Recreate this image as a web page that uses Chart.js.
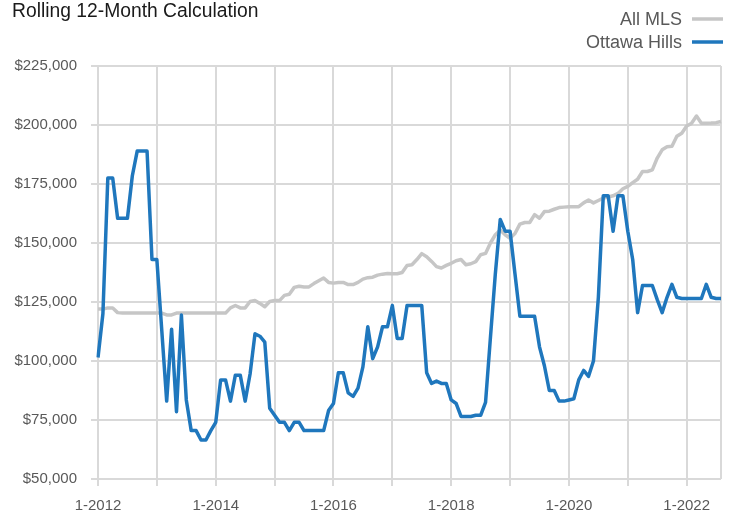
<!DOCTYPE html>
<html>
<head>
<meta charset="utf-8">
<title>Rolling 12-Month Calculation</title>
<script src="https://cdn.jsdelivr.net/npm/chart.js@4/dist/chart.umd.min.js"></script>
<style>
  html, body { margin: 0; padding: 0; background: #fff; }
  #wrap { width: 732px; height: 514px; }
</style>
</head>
<body>
<div id="wrap"><canvas id="chart" width="732" height="514"></canvas></div>
<script>
const titleText = 'Rolling 12-Month Calculation';
const startYear = 2012;
const monthCount = 128; // 1-2012 .. 8-2022

// median price, rolling 12 months
const allMls = [
    122000, 122000, 122500, 122500, 120500, 120300, 120300, 120300, 120300, 120300,
    120300, 120300, 120300, 120300, 119500, 119500, 120300, 120300, 120300, 120300,
    120300, 120300, 120300, 120300, 120300, 120300, 120300, 122500, 123500, 122500,
    122500, 125200, 125600, 124400, 123000, 125200, 125600, 125600, 127800, 128300,
    131200, 131700, 131400, 131400, 132800, 134000, 135200, 133300, 133000, 133300,
    133300, 132400, 132400, 133300, 134700, 135300, 135500, 136400, 136800, 137100,
    137000, 137000, 137500, 140500, 140800, 143000, 145500, 144200, 142200, 140000,
    139400, 140500, 141400, 142500, 143000, 140800, 141200, 142100, 145000, 145600,
    150000, 153500, 155500, 153500, 152000, 154000, 158000, 158700, 158700, 162000,
    160500, 163300, 163500, 164300, 165000, 165200, 165400, 165400, 165400, 167000,
    168200, 167000, 168000, 169000, 169500, 170000, 171000, 173000, 174000, 175600,
    177000, 180300, 180300, 181000, 186000, 189500, 190800, 191000, 195200, 196500,
    199600, 200700, 203800, 200700, 200700, 200800, 201000, 201500
];
const ottawaHills = [
    101500, 120000, 177500, 177500, 160500, 160500, 160500, 178500, 189000, 189000,
    189000, 143000, 143000, 113000, 83000, 113500, 78500, 119500, 83500, 70500,
    70500, 66500, 66500, 70500, 74000, 92000, 92000, 83000, 94000, 94000,
    83000, 94500, 111500, 110500, 108000, 80000, 77000, 74000, 74000, 70500,
    74000, 74000, 70500, 70500, 70500, 70500, 70500, 79000, 82000, 95000,
    95000, 86500, 85000, 88500, 97500, 114500, 101000, 106000, 114500, 114500,
    123500, 109500, 109500, 123500, 123500, 123500, 123500, 95000, 90500, 91500,
    90500, 90500, 83500, 82000, 76500, 76500, 76500, 77000, 77000, 82500,
    110000, 137000, 160000, 155000, 155000, 137000, 119000, 119000, 119000, 119000,
    106000, 98000, 87500, 87500, 83000, 83000, 83500, 84000, 92000, 96000,
    93500, 100000, 127000, 170000, 170000, 155000, 170000, 170000, 155000, 143000,
    120500, 132000, 132000, 132000, 126000, 120500, 127000, 132500, 127000, 126500,
    126500, 126500, 126500, 126500, 132500, 127000, 126500, 126500
];

const yMin = 50000;
const yMax = 225000;
const yStep = 25000;

const labels = [];
for (let i = 0; i < monthCount; i++) {
    labels.push(`${(i % 12) + 1}-${startYear + Math.floor(i / 12)}`);
}

const fontFamily = '"Liberation Sans", Arial, Helvetica, sans-serif';
const gridColor = '#d9d9d9';
const textColor = '#595959';

// title + legend drawn by hand, legend has the swatch on the right
const headerPlugin = {
    id: 'header',
    afterDraw(chart) {
        const c = chart.ctx;
        c.save();
        c.textBaseline = 'alphabetic';
        c.textAlign = 'left';
        c.fillStyle = '#1a1a1a';
        c.font = '19.3px ' + fontFamily;
        c.fillText(titleText, 12, 17);

        c.textAlign = 'right';
        c.fillStyle = textColor;
        c.font = '18px ' + fontFamily;
        chart.data.datasets.forEach((ds, i) => {
            const base = 25 + i * 23;
            c.fillText(ds.label, 682, base);
            c.strokeStyle = ds.borderColor;
            c.lineWidth = 3.5;
            c.beginPath();
            c.moveTo(692, base - 6);
            c.lineTo(723, base - 6);
            c.stroke();
        });
        c.restore();
    }
};

const yearLine = (ctx) => (ctx.index % 12 === 0 || ctx.index === monthCount - 1) ? gridColor : 'rgba(0,0,0,0)';

new Chart(document.getElementById('chart').getContext('2d'), {
    type: 'line',
    data: {
        labels: labels,
        datasets: [{
            label: 'All MLS',
            data: allMls,
            borderColor: '#c6c6c6',
            borderWidth: 3.5,
            pointRadius: 0,
            tension: 0,
            borderJoinStyle: 'round',
            order: 2
        }, {
            label: 'Ottawa Hills',
            data: ottawaHills,
            borderColor: '#1f77bd',
            borderWidth: 3.5,
            pointRadius: 0,
            tension: 0,
            borderJoinStyle: 'round',
            order: 1
        }]
    },
    options: {
        responsive: false,
        animation: false,
        devicePixelRatio: 1,
        layout: { padding: { top: 66, right: 10, left: 0, bottom: 0 } },
        plugins: {
            legend: { display: false },
            title: { display: false },
            tooltip: { enabled: false }
        },
        scales: {
            x: {
                grid: {
                    color: yearLine,
                    tickColor: (ctx) => ctx.index % 12 === 0 ? gridColor : 'rgba(0,0,0,0)',
                    lineWidth: 2,
                    tickLength: 7
                },
                border: { display: false },
                ticks: {
                    autoSkip: false,
                    maxRotation: 0,
                    padding: 11,
                    color: textColor,
                    font: { family: fontFamily, size: 15 },
                    callback: (v, i) => i % 24 === 0 ? labels[i] : ''
                },
                afterFit: (s) => { s.height = 35; }
            },
            y: {
                min: yMin,
                max: yMax,
                grid: { color: gridColor, lineWidth: 2, tickLength: 7 },
                border: { display: false },
                ticks: {
                    stepSize: yStep,
                    padding: 14,
                    color: textColor,
                    font: { family: fontFamily, size: 15 },
                    callback: (v) => '$' + v.toLocaleString('en-US')
                },
                afterFit: (s) => { s.width = 98; }
            }
        }
    },
    plugins: [headerPlugin]
});
</script>
</body>
</html>
